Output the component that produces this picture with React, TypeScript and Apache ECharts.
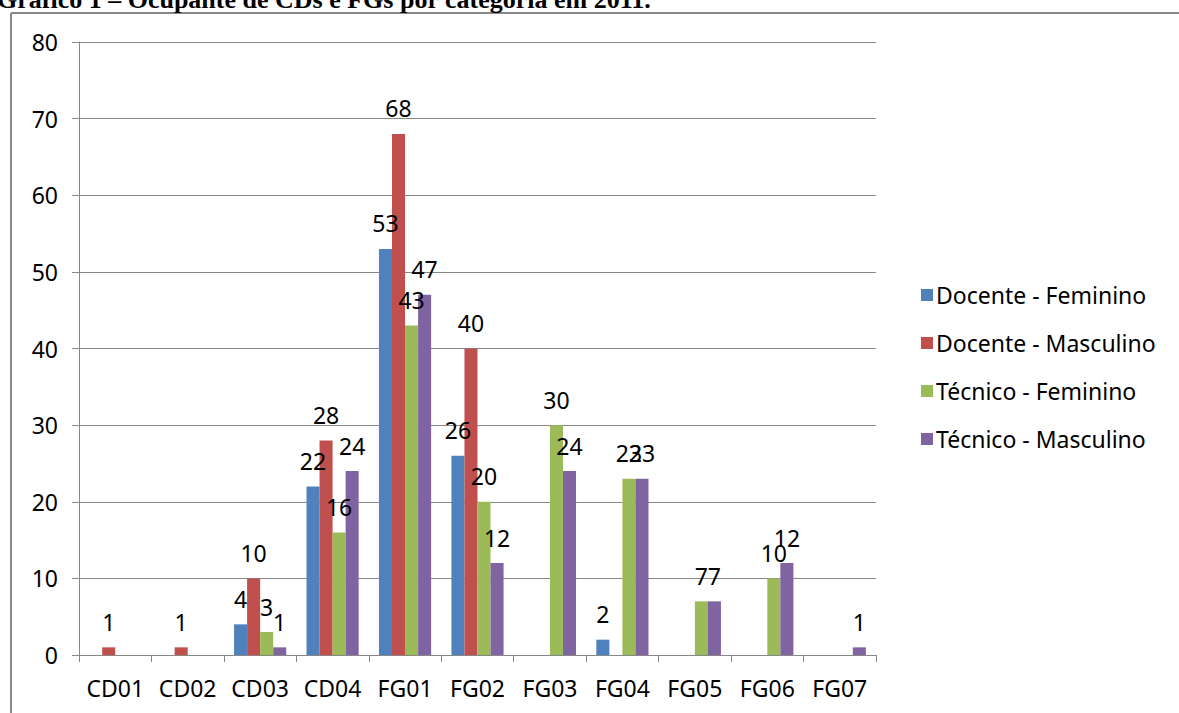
import React, { useEffect, useRef } from "react";
import * as echarts from "echarts";

const categories = ["CD01", "CD02", "CD03", "CD04", "FG01", "FG02", "FG03", "FG04", "FG05", "FG06", "FG07"];
const docenteFeminino = [0, 0, 4, 22, 53, 26, 0, 2, 0, 0, 0];
const docenteMasculino = [1, 1, 10, 28, 68, 40, 0, 0, 0, 0, 0];
const tecnicoFeminino = [0, 0, 3, 16, 43, 20, 30, 23, 7, 10, 0];
const tecnicoMasculino = [0, 0, 1, 24, 47, 12, 24, 23, 7, 12, 1];
const seriesNames = ["Docente - Feminino", "Docente - Masculino", "Técnico - Feminino", "Técnico - Masculino"];
const colors = ["#4F81BD", "#C0504D", "#9BBB59", "#8064A2"];
const titleText = "Gráfico 1 – Ocupante de CDs e FGs por categoria em 2011.";

const FONT = "'Noto Sans', 'Open Sans', sans-serif";
const FS = 23;

export default function App() {
  const ref = useRef<HTMLDivElement>(null);
  useEffect(() => {
    if (!ref.current) return;
    const chart = echarts.init(ref.current, null, { renderer: "svg" });
    const data = [docenteFeminino, docenteMasculino, tecnicoFeminino, tecnicoMasculino];
    chart.setOption({
      animation: false,
      backgroundColor: "#ffffff",
      textStyle: { fontFamily: FONT },
      graphic: [
        {
          type: "line",
          shape: { x1: 11, y1: 13, x2: 1179, y2: 13 },
          style: { stroke: "#878787", lineWidth: 2 },
        },
        {
          type: "line",
          shape: { x1: 11, y1: 13, x2: 11, y2: 713 },
          style: { stroke: "#878787", lineWidth: 2 },
        },
        {
          type: "text",
          left: -3,
          top: -14,
          style: {
            text: titleText,
            font: "bold 26px 'Liberation Serif', 'Times New Roman', serif",
            fill: "#000",
          },
        },
      ],
      legend: {
        orient: "vertical",
        left: 916,
        top: 278,
        itemWidth: 12,
        itemHeight: 12,
        itemGap: 24,
        icon: "rect",
        textStyle: { fontSize: FS, lineHeight: 24, color: "#000", fontFamily: FONT, padding: [0, 0, 0, -2] },
        data: seriesNames,
      },
      grid: { left: 79, right: 303, top: 42, bottom: 58, containLabel: false },
      xAxis: {
        type: "category",
        data: categories,
        axisLine: { lineStyle: { color: "#878787", width: 1 } },
        axisTick: { show: true, length: 7, lineStyle: { color: "#878787" } },
        axisLabel: { fontSize: FS, color: "#000", margin: 21, fontFamily: FONT, interval: 0, hideOverlap: false },
      },
      yAxis: {
        type: "value",
        min: 0,
        max: 80,
        interval: 10,
        axisLine: { show: true, lineStyle: { color: "#878787", width: 1 } },
        axisTick: { show: true, length: 7, lineStyle: { color: "#878787" } },
        axisLabel: { fontSize: FS, color: "#000", margin: 21, fontFamily: FONT },
        splitLine: { lineStyle: { color: "#878787", width: 1 } },
      },
      series: seriesNames.map((name, i) => ({
        name,
        type: "bar",
        data: data[i],
        barGap: "0%",
        barCategoryGap: "28%",
        itemStyle: { color: colors[i] },
        label: {
          show: true,
          position: "top",
          distance: 14,
          fontSize: FS,
          color: "#000",
          fontFamily: FONT,
          formatter: (p: any) => (p.value === 0 ? "" : String(p.value)),
        },
      })),
    });
    return () => chart.dispose();
  }, []);
  return (
    <div
      ref={ref}
      style={{ position: "absolute", left: 0, top: 0, width: 1179, height: 713, background: "#fff" }}
    />
  );
}
